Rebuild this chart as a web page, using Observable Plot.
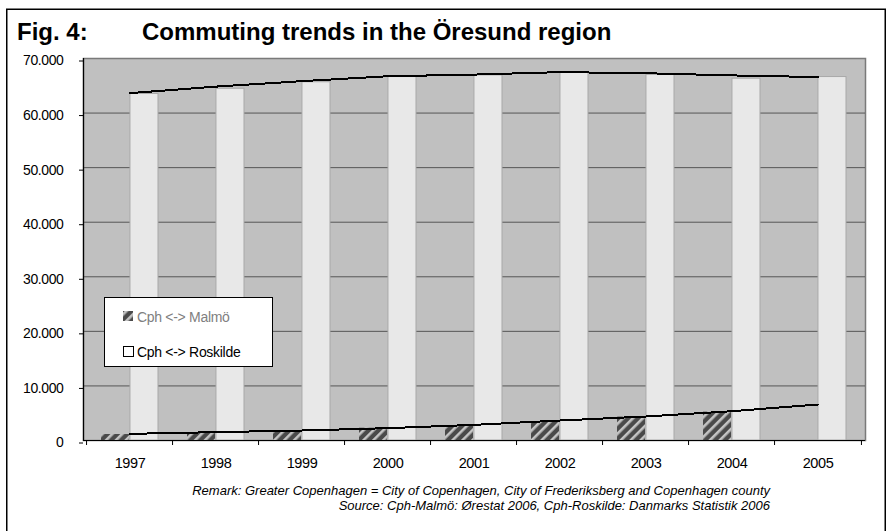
<!DOCTYPE html>
<html><head><meta charset="utf-8">
<script src="https://cdn.jsdelivr.net/npm/d3@7"></script>
<script src="https://cdn.jsdelivr.net/npm/@observablehq/plot@0.6"></script>
<style>
html,body{margin:0;padding:0;background:#fff;}
#wrap{position:relative;width:890px;height:531px;overflow:hidden;font-family:"Liberation Sans",Arial,sans-serif;background:#fff;}
#wrap svg{position:absolute;left:0;top:0;}
#overlay{pointer-events:none;}
.chart text{letter-spacing:-0.4px;}
</style></head>
<body>
<div id="wrap">
<svg width="0" height="0" style="position:absolute">
  <defs>
    <pattern id="hatch" patternUnits="userSpaceOnUse" width="7" height="7" patternTransform="rotate(45)">
      <rect width="7" height="7" fill="#4a4a4a"/>
      <rect width="2.6" height="7" fill="#c4c4c4"/>
    </pattern>
  </defs>
</svg>
</div>
<script>
const years = [1997, 1998, 1999, 2000, 2001, 2002, 2003, 2004, 2005];
const malmo = [1100, 1400, 1800, 2250, 2750, 3450, 4300, 5200, null];
const roskilde = [63500, 64450, 65650, 66600, 66900, 67450, 67000, 66300, 66600];
const malmoLine = [1220, 1530, 1830, 2260, 2870, 3660, 4400, 5370, 6600];
const roskildeLine = [63650, 64850, 65850, 66750, 67050, 67500, 67300, 66900, 66600];
const yTicks = [0, 10000, 20000, 30000, 40000, 50000, 60000, 70000];

const rows = years.map((year, i) => ({year, malmo: malmo[i], roskilde: roskilde[i], ml: malmoLine[i], rl: roskildeLine[i]}));

const W = 890, H = 531, ML = 83, MR = 25, MT = 58, MB = 91;
const step = (W - ML - MR) / years.length;
const half = step * (2 / 3) / 2;
const fmt = d => d3.format(",")(d).replace(/,/g, ".");

const chart = Plot.plot({
  width: W, height: H,
  marginLeft: ML, marginRight: MR, marginTop: MT, marginBottom: MB,
  className: "chart",
  style: {fontFamily: '"Liberation Sans", Arial, sans-serif', background: "transparent", color: "#000"},
  x: {type: "band", domain: years, paddingInner: 1/3, paddingOuter: 1/6, axis: null},
  y: {domain: [0, 70000], axis: null},
  marks: [
    Plot.frame({fill: "#c0c0c0", stroke: "#7a7a7a", strokeWidth: 1.5}),
    Plot.ruleY(yTicks.slice(1, -1), {stroke: "#555"}),
    Plot.barY(rows, {x: "year", y: "malmo", fill: "url(#hatch)", insetRight: half}),
    Plot.barY(rows, {x: "year", y: "roskilde", fill: "#e8e8e8", stroke: "#a8a8a8", strokeWidth: 1, insetLeft: half}),
    Plot.line(rows, {x: "year", y: "rl", stroke: "#000", strokeWidth: 2, shapeRendering: "crispEdges"}),
    Plot.line(rows, {x: "year", y: "ml", stroke: "#000", strokeWidth: 2, shapeRendering: "crispEdges"}),
    Plot.ruleY([0], {stroke: "#000", strokeWidth: 1.2}),
    Plot.frame({anchor: "left", stroke: "#000", strokeWidth: 1.2}),
    Plot.ruleX(years, {x: d => d, y1: 0, y2: 0, insetTop: 0, insetBottom: -5, dx: -step / 2, stroke: "#000"}),
    Plot.ruleX(years.slice(-1), {x: d => d, y1: 0, y2: 0, insetTop: 0, insetBottom: -5, dx: step / 2, stroke: "#000"}),
    Plot.axisY({ticks: yTicks, tickFormat: fmt, tickSize: 4, tickPadding: 16, fontSize: 14, dy: 2.5, label: null}),
    Plot.axisX({tickSize: 0, tickPadding: 17, fontSize: 14.5, tickFormat: d => String(d), label: null})
  ]
});
document.getElementById("wrap").appendChild(chart);

const ns = "http://www.w3.org/2000/svg";
const ov = document.createElementNS(ns, "svg");
ov.setAttribute("id", "overlay");
ov.setAttribute("width", W);
ov.setAttribute("height", H);
ov.setAttribute("font-family", '"Liberation Sans", Arial, sans-serif');
ov.innerHTML = `
  <rect x="6.75" y="9.25" width="878.5" height="540" fill="none" stroke="#000" stroke-width="1.5"/>
  <text x="17" y="39.5" font-size="24" font-weight="bold">Fig. 4:</text>
  <text x="142" y="39.5" font-size="24" font-weight="bold">Commuting trends in the Öresund region</text>
  <rect x="104.5" y="297.5" width="168" height="69" fill="#fff" stroke="#000" stroke-width="1"/>
  <rect x="123" y="311" width="10" height="10" fill="url(#hatch)"/>
  <text x="137" y="322" font-size="14" fill="#808080" letter-spacing="-0.3">Cph &lt;-&gt; Malmö</text>
  <rect x="123.5" y="346.5" width="10" height="10" fill="#fff" stroke="#000" stroke-width="1"/>
  <text x="137" y="356.5" font-size="14" fill="#000" letter-spacing="-0.3">Cph &lt;-&gt; Roskilde</text>
  <text x="770" y="495" font-size="13" font-style="italic" text-anchor="end">Remark: Greater Copenhagen = City of Copenhagen, City of Frederiksberg and Copenhagen county</text>
  <text x="770" y="510" font-size="13" font-style="italic" text-anchor="end">Source: Cph-Malmö: Ørestat 2006, Cph-Roskilde: Danmarks Statistik 2006</text>
`;
document.getElementById("wrap").appendChild(ov);
</script>
</body></html>
